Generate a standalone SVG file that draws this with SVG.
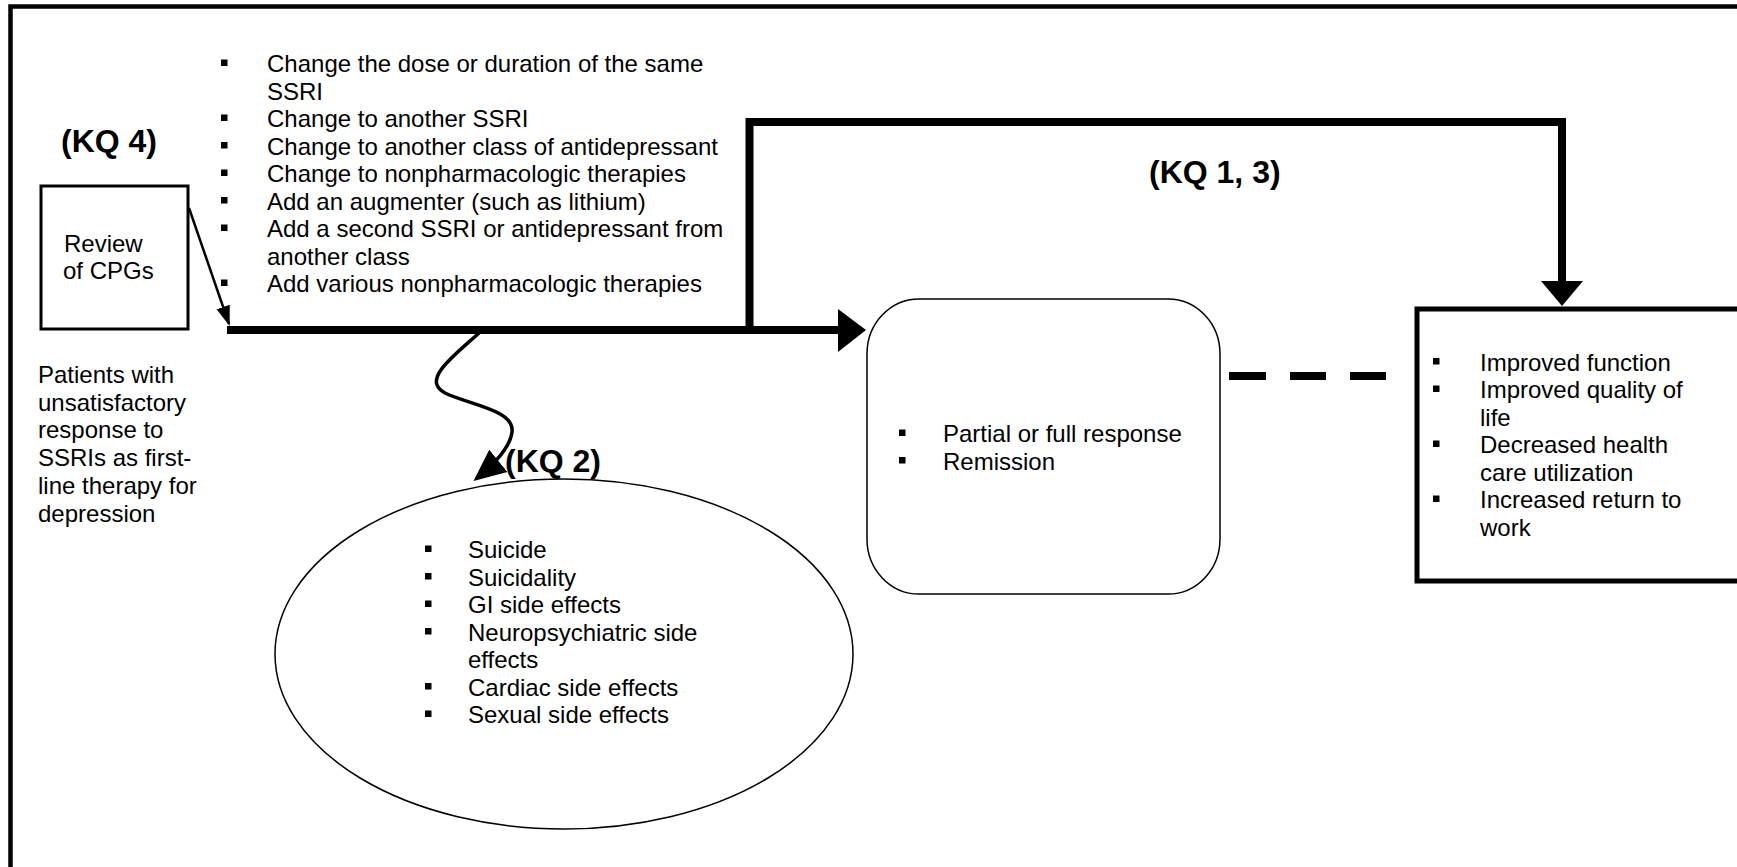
<svg xmlns="http://www.w3.org/2000/svg" width="1737" height="867" viewBox="0 0 1737 867">
<defs>
<style>
text{font-family:"Liberation Sans",Arial,sans-serif;font-size:24px;fill:#000}
.kq{font-weight:bold;font-size:32px}
.thick{fill:none;stroke:#000;stroke-width:8}
.bul{fill:#000}
</style>
<marker id="ah2" viewBox="0 0 10 10" refX="9" refY="5" markerWidth="32" markerHeight="32" orient="auto" markerUnits="userSpaceOnUse">
<path d="M0,0.5 L10,5 L0,9.5 Z" fill="#000"/>
</marker>
<marker id="ah3" viewBox="0 0 10 10" refX="9" refY="5" markerWidth="20" markerHeight="20" orient="auto" markerUnits="userSpaceOnUse">
<path d="M0,1.5 L10,5 L0,8.5 Z" fill="#000"/>
</marker>
<rect id="b" width="6.5" height="6.5"/>
</defs>
<rect width="1737" height="867" fill="#fff"/>
<rect id="frame" x="10.5" y="6.5" width="1800" height="1000" fill="none" stroke="#000" stroke-width="4.5"/>

<g id="connectors">
<path class="thick" d="M227 330 H842"/>
<polygon points="838,309 866,330 838,352" fill="#000"/>
<path class="thick" d="M749.5 330 V122 H1562 V284" />
<polygon points="1541,281 1583,281 1562,306" fill="#000"/>
<path d="M189 208 L229 324" fill="none" stroke="#000" stroke-width="2.5" marker-end="url(#ah3)"/>
<path d="M479 333 C 455 355, 420 380, 445 393 C 470 405, 515 410, 512 432 C 510 448, 492 466, 476 479" fill="none" stroke="#000" stroke-width="3.5" marker-end="url(#ah2)"/>
<g stroke="#000" stroke-width="8">
<line x1="1229" y1="376" x2="1266" y2="376"/>
<line x1="1290" y1="376" x2="1326" y2="376"/>
<line x1="1350" y1="376" x2="1386" y2="376"/>
</g>
</g>

<g id="kq4"><text class="kq" x="61" y="152">(KQ 4)</text></g>
<g id="kq13"><text class="kq" x="1149" y="183">(KQ 1, 3)</text></g>
<g id="kq2"><text class="kq" x="505" y="472">(KQ 2)</text></g>

<g id="review">
<rect x="41" y="186" width="147" height="143" fill="#fff" stroke="#000" stroke-width="3"/>
<text x="64" y="252">Review</text>
<text x="63" y="279">of CPGs</text>
</g>

<g id="patients">
<text x="38" y="383">Patients with</text>
<text x="38" y="410.7">unsatisfactory</text>
<text x="38" y="438.4">response to</text>
<text x="38" y="466.1">SSRIs as first-</text>
<text x="38" y="493.8">line therapy for</text>
<text x="38" y="521.5">depression</text>
</g>

<g id="interventions">
<use href="#b" class="bul" x="221" y="59.5"/>
<use href="#b" class="bul" x="221" y="114.5"/>
<use href="#b" class="bul" x="221" y="142"/>
<use href="#b" class="bul" x="221" y="169.5"/>
<use href="#b" class="bul" x="221" y="197"/>
<use href="#b" class="bul" x="221" y="224.5"/>
<use href="#b" class="bul" x="221" y="279.5"/>
<text x="267" y="72">Change the dose or duration of the same</text>
<text x="267" y="99.5">SSRI</text>
<text x="267" y="127">Change to another SSRI</text>
<text x="267" y="154.5">Change to another class of antidepressant</text>
<text x="267" y="182">Change to nonpharmacologic therapies</text>
<text x="267" y="209.5">Add an augmenter (such as lithium)</text>
<text x="267" y="237">Add a second SSRI or antidepressant from</text>
<text x="267" y="264.5">another class</text>
<text x="267" y="292">Add various nonpharmacologic therapies</text>
</g>

<g id="harms">
<ellipse cx="564" cy="654" rx="289" ry="175" fill="none" stroke="#000" stroke-width="1.5"/>
<use href="#b" class="bul" x="425" y="545.5"/>
<use href="#b" class="bul" x="425" y="573"/>
<use href="#b" class="bul" x="425" y="600.5"/>
<use href="#b" class="bul" x="425" y="628"/>
<use href="#b" class="bul" x="425" y="683"/>
<use href="#b" class="bul" x="425" y="710.5"/>
<text x="468" y="558">Suicide</text>
<text x="468" y="585.5">Suicidality</text>
<text x="468" y="613">GI side effects</text>
<text x="468" y="640.5">Neuropsychiatric side</text>
<text x="468" y="668">effects</text>
<text x="468" y="695.5">Cardiac side effects</text>
<text x="468" y="723">Sexual side effects</text>
</g>

<g id="response">
<rect x="867" y="299" width="353" height="295" rx="52" ry="55" fill="none" stroke="#000" stroke-width="1.5"/>
<use href="#b" class="bul" x="899" y="429.5"/>
<use href="#b" class="bul" x="899" y="457"/>
<text x="943" y="442">Partial or full response</text>
<text x="943" y="469.5">Remission</text>
</g>

<g id="outcomes">
<rect x="1417" y="309" width="340" height="272" fill="none" stroke="#000" stroke-width="5"/>
<use href="#b" class="bul" x="1433" y="358"/>
<use href="#b" class="bul" x="1433" y="385.5"/>
<use href="#b" class="bul" x="1433" y="440.5"/>
<use href="#b" class="bul" x="1433" y="495.5"/>
<text x="1480" y="370.5">Improved function</text>
<text x="1480" y="398">Improved quality of</text>
<text x="1480" y="425.5">life</text>
<text x="1480" y="453">Decreased health</text>
<text x="1480" y="480.5">care utilization</text>
<text x="1480" y="508">Increased return to</text>
<text x="1480" y="535.5">work</text>
</g>
</svg>
